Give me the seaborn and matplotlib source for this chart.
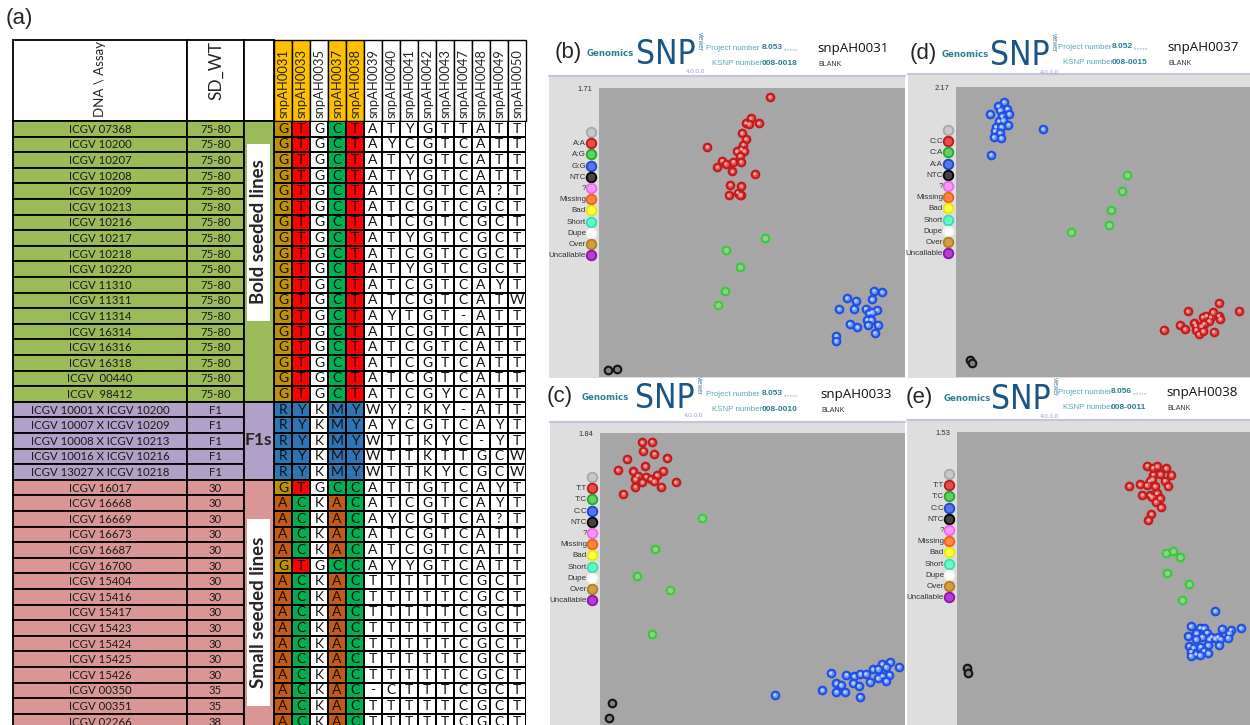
import numpy as np
import pandas as pd
import matplotlib
matplotlib.use("Agg")
import matplotlib.pyplot as plt
from matplotlib.colors import ListedColormap
from matplotlib.patches import Rectangle
from matplotlib import font_manager
import seaborn as sns

sns.set_style("white")
plt.rcParams["font.family"] = ["Lato", "DejaVu Sans"]

W, H = 1250, 725

# ---------------- table data ----------------
assays = ["snpAH0031", "snpAH0033", "snpAH0035", "snpAH0037", "snpAH0038",
          "snpAH0039", "snpAH0040", "snpAH0041", "snpAH0042", "snpAH0043",
          "snpAH0047", "snpAH0048", "snpAH0049", "snpAH0050"]
highlight_assays = ["snpAH0031", "snpAH0033", "snpAH0037", "snpAH0038"]
colored_assays = ["snpAH0031", "snpAH0033", "snpAH0037", "snpAH0038"]

bold_lines = ["ICGV 07368", "ICGV 10200", "ICGV 10207", "ICGV 10208", "ICGV 10209",
              "ICGV 10213", "ICGV 10216", "ICGV 10217", "ICGV 10218", "ICGV 10220",
              "ICGV 11310", "ICGV 11311", "ICGV 11314", "ICGV 16314", "ICGV 16316",
              "ICGV 16318", "ICGV  00440", "ICGV  98412"]
bold_sdwt = ["75-80"] * 18
bold_calls = ["GTGCTATYGTTATT", "GTGCTAYCGTCATT", "GTGCTATYGTCATT", "GTGCTATYGTCATT",
              "GTGCTATCGTCA?T", "GTGCTATCGTCGCT", "GTGCTATCGTCGCT", "GTGCTATYGTCGCT",
              "GTGCTATCGTCGCT", "GTGCTATYGTCGCT", "GTGCTATCGTCAYT", "GTGCTATCGTCATW",
              "GTGCTAYTGT-ATT", "GTGCTATCGTCATT", "GTGCTATCGTCATT", "GTGCTATCGTCATT",
              "GTGCTATCGTCATT", "GTGCTATCGYCATT"]

f1_lines = ["ICGV 10001 X ICGV 10200", "ICGV 10007 X ICGV 10209", "ICGV 10008 X ICGV 10213",
            "ICGV 10016 X ICGV 10216", "ICGV 13027 X ICGV 10218"]
f1_sdwt = ["F1"] * 5
f1_calls = ["RYKMYWY?KY-ATT", "RYKMYAYCGTCAYT", "RYKMYWTTKYC-YT",
            "RYKMYWTTKTTGCW", "RYKMYWTTKYCGCW"]

small_lines = ["ICGV 16017", "ICGV 16668", "ICGV 16669", "ICGV 16673", "ICGV 16687",
               "ICGV 16700", "ICGV 15404", "ICGV 15416", "ICGV 15417", "ICGV 15423",
               "ICGV 15424", "ICGV 15425", "ICGV 15426", "ICGV 00350", "ICGV 00351",
               "ICGV 02266"]
small_sdwt = ["30"] * 13 + ["35", "35", "38"]
small_calls = ["GTGCCATTGTCAYT", "ACKACATCGTCAYT", "ACKACAYCGTCA?T", "ACKACATCGTCATT",
               "ACKACATCGTCATT", "GTGCCAYYGTCATT", "ACKACTTTTTCGCT", "ACKACTTTTTCGCT",
               "ACKACTTTTTCGCT", "ACKACTTTTTCGCT", "ACKACTTTTTCGCT", "ACKACTTTTTCGCT",
               "ACKACTTTTTCGCT", "ACKAC-CTTTCGCT", "ACKACTTTTTCGCT", "ACKACTTTTTCGCT"]

group_labels = ["Bold seeded lines", "F1s", "Small seeded lines"]

# ---------------- cluster-plot data (normalised signal) ----------------
b_AA_x = [0.559, 0.496, 0.480, 0.490, 0.522, 0.467, 0.480, 0.354, 0.471, 0.465, 0.450, 0.474, 0.461,
          0.402, 0.414, 0.387, 0.439, 0.464, 0.436, 0.509, 0.429, 0.465, 0.453, 0.464, 0.424, 0.462]
b_AA_y = [1.657, 1.530, 1.503, 1.497, 1.501, 1.443, 1.408, 1.362, 1.374, 1.348, 1.335, 1.337, 1.309,
          1.281, 1.261, 1.242, 1.275, 1.273, 1.216, 1.202, 1.137, 1.129, 1.091, 1.079, 1.075, 1.074]
b_AG_x = [0.544, 0.415, 0.462, 0.413, 0.389]
b_AG_y = [0.822, 0.749, 0.650, 0.510, 0.425]
b_GG_x = [0.898, 0.925, 0.810, 0.839, 0.892, 0.784, 0.833, 0.871, 0.908, 0.882, 0.891, 0.876, 0.889,
          0.819, 0.844, 0.878, 0.911, 0.901, 0.775, 0.775]
b_GG_y = [0.510, 0.502, 0.467, 0.451, 0.459, 0.403, 0.405, 0.405, 0.397, 0.378, 0.384, 0.340, 0.340,
          0.314, 0.295, 0.308, 0.310, 0.261, 0.245, 0.214]
b_NTC_x = [0.028, 0.058]
b_NTC_y = [0.043, 0.047]

d_CC_x = [0.894, 0.964, 0.788, 0.839, 0.852, 0.866, 0.873, 0.893, 0.898, 0.860, 0.811, 0.843, 0.815,
          0.761, 0.778, 0.706, 0.817, 0.835, 0.825, 0.840, 0.876]
d_CC_y = [0.554, 0.496, 0.491, 0.449, 0.459, 0.449, 0.486, 0.459, 0.434, 0.419, 0.404, 0.399, 0.384,
          0.387, 0.359, 0.354, 0.354, 0.379, 0.322, 0.344, 0.339]
d_CA_x = [0.583, 0.563, 0.528, 0.520, 0.391]
d_CA_y = [1.511, 1.392, 1.247, 1.137, 1.085]
d_AA_x = [0.163, 0.144, 0.174, 0.116, 0.149, 0.180, 0.156, 0.146, 0.160, 0.178, 0.135, 0.154, 0.131,
          0.149, 0.128, 0.153, 0.296, 0.119]
d_AA_y = [2.058, 2.025, 2.008, 1.968, 1.995, 1.968, 1.950, 1.915, 1.920, 1.888, 1.871, 1.873, 1.841,
          1.826, 1.796, 1.788, 1.856, 1.663]
d_NTC_x = [0.048, 0.056]
d_NTC_y = [0.125, 0.107]

c_TT_x = [0.138, 0.170, 0.142, 0.178, 0.087, 0.220, 0.149, 0.058, 0.109, 0.207, 0.186, 0.123, 0.151,
          0.116, 0.166, 0.177, 0.139, 0.248, 0.116, 0.201, 0.077]
c_TT_y = [1.781, 1.785, 1.729, 1.710, 1.674, 1.680, 1.632, 1.607, 1.598, 1.602, 1.575, 1.571, 1.565,
          1.550, 1.550, 1.535, 1.529, 1.529, 1.502, 1.502, 1.457]
c_TC_x = [0.333, 0.181, 0.121, 0.228, 0.172]
c_TC_y = [1.302, 1.106, 0.938, 0.848, 0.576]
c_CC_x = [0.951, 0.980, 0.925, 0.937, 0.895, 0.911, 0.756, 0.808, 0.833, 0.854, 0.871, 0.949, 0.925,
          0.911, 0.884, 0.938, 0.775, 0.790, 0.831, 0.848, 0.729, 0.775, 0.803, 0.852, 0.573]
c_CC_y = [0.397, 0.366, 0.383, 0.366, 0.351, 0.355, 0.326, 0.318, 0.307, 0.322, 0.322, 0.318, 0.309,
          0.294, 0.273, 0.278, 0.263, 0.252, 0.263, 0.246, 0.219, 0.210, 0.208, 0.179, 0.191]
c_NTC_x = [0.040, 0.031]
c_NTC_y = [0.139, 0.042]

e_TT_x = [0.649, 0.669, 0.683, 0.713, 0.669, 0.693, 0.732, 0.657, 0.666, 0.709, 0.624, 0.647, 0.588,
          0.675, 0.719, 0.633, 0.658, 0.681, 0.664, 0.692, 0.678, 0.695, 0.663, 0.653]
e_TT_y = [1.355, 1.344, 1.351, 1.341, 1.308, 1.310, 1.306, 1.275, 1.282, 1.276, 1.256, 1.252, 1.249,
          1.247, 1.247, 1.202, 1.200, 1.209, 1.191, 1.183, 1.165, 1.137, 1.101, 1.070]
e_TC_x = [0.714, 0.736, 0.761, 0.718, 0.792, 0.767]
e_TC_y = [0.899, 0.908, 0.878, 0.796, 0.736, 0.652]
e_CC_x = [0.881, 0.797, 0.830, 0.842, 0.903, 0.934, 0.968, 0.928, 0.817, 0.852, 0.868, 0.790, 0.836,
          0.890, 0.898, 0.924, 0.815, 0.861, 0.880, 0.792, 0.806, 0.831, 0.856, 0.893, 0.798, 0.815,
          0.842, 0.858, 0.797, 0.828]
e_CC_y = [0.596, 0.516, 0.508, 0.504, 0.503, 0.497, 0.506, 0.478, 0.478, 0.483, 0.461, 0.464, 0.461,
          0.461, 0.449, 0.456, 0.447, 0.447, 0.452, 0.414, 0.403, 0.409, 0.417, 0.416, 0.383, 0.370,
          0.388, 0.374, 0.362, 0.365]
e_NTC_x = [0.033, 0.036]
e_NTC_y = [0.299, 0.273]

legend_tail = ["NTC", "?", "Missing", "Bad", "Short", "Dupe", "Over", "Uncallable"]

# ---------------- fonts ----------------
ttf = font_manager.fontManager.ttflist
available = {f.name for f in ttf}
has_dv_cond = any(f.name == "DejaVu Sans" and str(f.stretch) in ("condensed", "semi-condensed")
                  for f in ttf)
if "Liberation Sans Narrow" in available:
    logo_kw = dict(family=["Liberation Sans Narrow", "DejaVu Sans"], fontsize=26)
elif has_dv_cond:
    logo_kw = dict(family=["DejaVu Sans"], fontstretch="condensed", fontsize=24)
else:
    logo_kw = dict(family=["Liberation Sans", "DejaVu Sans"], fontsize=22.5)
ui_font = ["Liberation Sans", "DejaVu Sans"]

# ---------------- helpers ----------------
fig = plt.figure(figsize=(W / 100, H / 100), dpi=100)


def px_axes(x0, y0, x1, y1):
    return fig.add_axes([x0 / W, 1 - y1 / H, (x1 - x0) / W, (y1 - y0) / H])


canvas = px_axes(0, 0, W, H)
canvas.set_xlim(0, W)
canvas.set_ylim(H, 0)
canvas.axis("off")

# ---------------- (a) table ----------------
names = bold_lines + f1_lines + small_lines
sdwt = bold_sdwt + f1_sdwt + small_sdwt
calls = bold_calls + f1_calls + small_calls
groups = [0] * len(bold_lines) + [1] * len(f1_lines) + [2] * len(small_lines)
group_colors = ["#9BBB59", "#B1A0C7", "#DA9694"]

TL, C1, C2, C3 = 13, 187, 244, 274
CW = 18.0
HT, HB = 40, 121
RH = 15.6
nrows = len(names)
LW = 1.3

canvas.text(6, 18, "(a)", fontsize=16, family=["Liberation Sans", "DejaVu Sans"],
            ha="left", va="center")

for (x0, x1) in [(TL, C1), (C1, C2), (C2, C3)]:
    canvas.add_patch(Rectangle((x0, HT), x1 - x0, HB - HT, fc="white", ec="black", lw=LW))
canvas.text((TL + C1) / 2, HB - 4, "DNA \\ Assay", rotation=90, ha="center", va="bottom",
            fontsize=9.5)
canvas.text((C1 + C2) / 2 + 1, 70, "SD_WT", rotation=90, ha="center", va="center", fontsize=12.5)
for j, a in enumerate(assays):
    x0 = C3 + j * CW
    fc = "#FFC000" if a in highlight_assays else "white"
    canvas.add_patch(Rectangle((x0, HT), CW, HB - HT, fc=fc, ec="black", lw=1.0))
    canvas.text(x0 + CW / 2 + 0.5, HB - 3, a, rotation=90, ha="center", va="bottom", fontsize=9.4)

for i in range(nrows):
    y0 = HB + i * RH
    fc = group_colors[groups[i]]
    canvas.add_patch(Rectangle((TL, y0), C1 - TL, RH, fc=fc, ec="black", lw=LW))
    canvas.add_patch(Rectangle((C1, y0), C2 - C1, RH, fc=fc, ec="black", lw=LW))
    canvas.text((TL + C1) / 2, y0 + RH / 2 + 0.5, names[i], ha="center", va="center",
                fontsize=8.2, color="#1a1a1a")
    canvas.text((C1 + C2) / 2, y0 + RH / 2 + 0.5, sdwt[i], ha="center", va="center",
                fontsize=8.2, color="#1a1a1a")

# merged group-label column
starts = [0, len(bold_lines), len(bold_lines) + len(f1_lines)]
sizes = [len(bold_lines), len(f1_lines), len(small_lines)]
for g in range(3):
    y0 = HB + starts[g] * RH
    canvas.add_patch(Rectangle((C2, y0), C3 - C2, sizes[g] * RH, fc=group_colors[g],
                               ec="black", lw=LW))
canvas.add_patch(Rectangle((247, 144), 23, 177, fc="white", ec="none"))
canvas.text(258.5, 232, group_labels[0], rotation=90, ha="center", va="center",
            fontsize=13.5, fontweight="bold")
canvas.text(258.5, 440, group_labels[1], ha="center", va="center", fontsize=12.5,
            fontweight="bold")
canvas.add_patch(Rectangle((247, 519), 23, 187, fc="white", ec="none"))
canvas.text(258.5, 612, group_labels[2], rotation=90, ha="center", va="center",
            fontsize=13.5, fontweight="bold")

# SNP call grid as a seaborn heatmap
cat_colors = ["#FFFFFF", "#BF9000", "#FF0000", "#00B050", "#C55A11", "#2E75B6"]
letter_cat = {"G": 1, "T": 2, "C": 3, "A": 4, "R": 5, "Y": 5, "M": 5}
codes = np.zeros((nrows, len(assays)), dtype=float)
letters = np.empty((nrows, len(assays)), dtype=object)
for i, row in enumerate(calls):
    for j, ch in enumerate(row):
        letters[i, j] = ch
        if assays[j] in colored_assays:
            codes[i, j] = letter_cat.get(ch, 0)
grid_df = pd.DataFrame(codes, index=names, columns=assays)
ax_grid = px_axes(C3, HB, C3 + len(assays) * CW, HB + nrows * RH)
sns.heatmap(grid_df, ax=ax_grid, cmap=ListedColormap(cat_colors), vmin=-0.5, vmax=5.5,
            annot=letters, fmt="", cbar=False, linewidths=1.1, linecolor="black",
            xticklabels=False, yticklabels=False,
            annot_kws=dict(color="#111111", fontsize=10, family=["Lato", "DejaVu Sans"]))
ax_grid.set_xlabel("")
ax_grid.set_ylabel("")
for s in ax_grid.spines.values():
    s.set_visible(False)

# ---------------- (b)-(e) cluster plots ----------------
panels = [
    dict(letter="(b)", lx=555, ly=52, gx=587, sx=636, hy1=48, hy2=63, px=706, vx=762, kx=712,
         nx=817, proj="8.053", ksnp="008-0018", snp="snpAH0031",
         frame=(549, 76, 905, 378), inner=(599, 88, 905, 377), ymax="1.71", ymaxv=1.71,
         legx=591, legy=132, calls=["A:A", "A:G", "G:G"],
         data=[(b_AA_x, b_AA_y), (b_AG_x, b_AG_y), (b_GG_x, b_GG_y), (b_NTC_x, b_NTC_y)]),
    dict(letter="(d)", lx=910, ly=53, gx=942, sx=990, hy1=47, hy2=62, px=1058, vx=1112, kx=1063,
         nx=1167, proj="8.052", ksnp="008-0015", snp="snpAH0037",
         frame=(908, 74, 1250, 378), inner=(956, 87, 1250, 377), ymax="2.17", ymaxv=2.17,
         legx=948, legy=130, calls=["C:C", "C:A", "A:A"],
         data=[(d_CC_x, d_CC_y), (d_CA_x, d_CA_y), (d_AA_x, d_AA_y), (d_NTC_x, d_NTC_y)]),
    dict(letter="(c)", lx=547, ly=396, gx=582, sx=635, hy1=394, hy2=409, px=706, vx=762, kx=712,
         nx=820, proj="8.053", ksnp="008-0010", snp="snpAH0033",
         frame=(550, 422, 905, 725), inner=(600, 433, 905, 725), ymax="1.84", ymaxv=1.84,
         legx=592, legy=477, calls=["T:T", "T:C", "C:C"],
         data=[(c_TT_x, c_TT_y), (c_TC_x, c_TC_y), (c_CC_x, c_CC_y), (c_NTC_x, c_NTC_y)]),
    dict(letter="(e)", lx=906, ly=397, gx=944, sx=991, hy1=392, hy2=407, px=1058, vx=1111, kx=1063,
         nx=1166, proj="8.056", ksnp="008-0011", snp="snpAH0038",
         frame=(907, 420, 1250, 725), inner=(957, 432, 1250, 725), ymax="1.53", ymaxv=1.53,
         legx=949, legy=474, calls=["T:T", "T:C", "C:C"],
         data=[(e_TT_x, e_TT_y), (e_TC_x, e_TC_y), (e_CC_x, e_CC_y), (e_NTC_x, e_NTC_y)]),
]

cluster_face = ["#E05555", "#9FC59A", "#6E95F5", "#808080"]
cluster_edge = ["#C41A1A", "#2FD12F", "#1E4FE6", "#151515"]
cluster_core = ["#F4A5A5", None, "#B8CCFF", None]

legend_face = ["#C8C8C8", "#E05050", "#66CC66", "#5577EE", "#444444", "#FF99FF", "#FF8844",
               "#FFFF44", "#66FFCC", "#FFFFFF", "#D0A040", "#B040D0"]
legend_edge = ["#A8A8A8", "#C01818", "#22AA22", "#1E45D0", "#000000", "#EE66EE", "#F06010",
               "#E8E800", "#30E0A8", "#F4F4F4", "#B08020", "#9010B0"]

teal = "#2C7F8E"
lteal = "#5AA6B2"

for p in panels:
    fx0, fy0, fx1, fy1 = p["frame"]
    # header
    canvas.text(p["lx"], p["ly"], p["letter"], fontsize=16, ha="left", va="center",
                family=["Liberation Sans", "DejaVu Sans"])
    canvas.text(p["gx"], p["ly"] + 1, "Genomics", fontsize=6.2, fontweight="bold", color=teal,
                ha="left", va="center", family=["DejaVu Sans"])
    canvas.text(p["sx"], p["ly"] + 12, "SNP", color="#1B5585", ha="left", va="baseline",
                **logo_kw)
    canvas.text(p["sx"] + 59.5, p["ly"] - 20, "viewer", fontsize=4.8, color="#4A7FA8",
                rotation=270, ha="left", va="top", family=ui_font)
    canvas.text(p["sx"] + 59, p["ly"] + 19, "4.0.0.0", fontsize=4.5, color="#9A9AD0",
                ha="center", va="center", family=ui_font)
    canvas.text(p["px"], p["hy1"], "Project number", fontsize=5.7, color=lteal,
                ha="left", va="center", family=ui_font)
    canvas.text(p["vx"], p["hy1"] - 0.5, p["proj"], fontsize=6, color=teal, fontweight="bold",
                ha="left", va="center", family=ui_font)
    canvas.text(p["vx"] + 21, p["hy1"] + 1, ",,,,,,,,,", fontsize=4.2, color=teal,
                ha="left", va="center", family=ui_font)
    canvas.text(p["kx"], p["hy2"], "KSNP number", fontsize=5.7, color=lteal,
                ha="left", va="center", family=ui_font)
    canvas.text(p["vx"], p["hy2"], p["ksnp"], fontsize=6, color=teal, fontweight="bold",
                ha="left", va="center", family=ui_font)
    canvas.text(p["nx"], p["hy1"], p["snp"], fontsize=9.6, color="#111111",
                ha="left", va="center", family=["Open Sans", "DejaVu Sans"])
    canvas.text(p["nx"] + 1, p["hy2"] + 1, "BLANK", fontsize=5, color="#333344",
                ha="left", va="center", family=ui_font)
    # frame
    canvas.add_patch(Rectangle((fx0, fy0), fx1 - fx0, fy1 - fy0, fc="#DEDEDE", ec="none"))
    canvas.plot([fx0, fx1], [fy0, fy0], color="#C4C4DC", lw=1.5)
    ix0, iy0, ix1, iy1 = p["inner"]
    canvas.text(ix0 - 7, iy0 + 1, p["ymax"], fontsize=5.5, color="#333333", ha="right",
                va="center", family=ui_font)
    # legend
    leg_labels = [""] + p["calls"] + legend_tail
    for k, lab in enumerate(leg_labels):
        ly = p["legy"] + k * 11.2
        canvas.scatter([p["legx"]], [ly], s=48, color=legend_face[k], edgecolor=legend_edge[k],
                       linewidth=1.3, zorder=5)
        canvas.text(p["legx"] - 5, ly + 0.5, lab, fontsize=5.8, color="#333333", ha="right",
                    va="center", family=ui_font, zorder=5)
    # cluster plot
    ax = px_axes(ix0, iy0, ix1, iy1)
    ax.set_facecolor("#A6A6A6")
    for k, (xs, ys) in enumerate(p["data"]):
        df = pd.DataFrame({"x": xs, "y": ys})
        sns.scatterplot(data=df, x="x", y="y", ax=ax, s=30, color=cluster_face[k],
                        edgecolor=cluster_edge[k], linewidth=1.5, legend=False, zorder=3)
        if cluster_core[k] is not None:
            sns.scatterplot(data=df, x="x", y="y", ax=ax, s=5, color=cluster_core[k],
                            edgecolor="none", linewidth=0, legend=False, zorder=4)
    ax.set_xlim(0, 1)
    ax.set_ylim(0, p["ymaxv"])
    ax.set_xticks([])
    ax.set_yticks([])
    ax.set_xlabel("")
    ax.set_ylabel("")
    for s in ax.spines.values():
        s.set_visible(False)

fig.savefig("out.png", dpi=100)
